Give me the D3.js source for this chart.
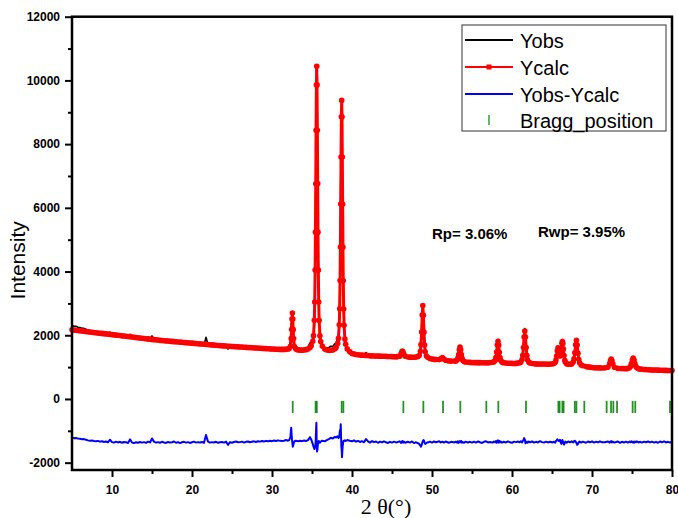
<!DOCTYPE html>
<html>
<head>
<meta charset="utf-8">
<script src="https://cdn.jsdelivr.net/npm/d3@7"></script>
<style>
  body { margin: 0; background: #fff; }
  svg { display: block; }
</style>
</head>
<body>
<svg id="chart" width="678" height="518"></svg>
<script>
// ---- Rietveld refinement data (2θ in degrees, intensity in counts) ----
const twoTheta = [
  5,5.25,5.5,5.75, 6,6.25,6.5,6.75, 7,7.25,7.5,7.75, 8,8.25,8.5,8.75, 9,9.25,9.5,9.75,
  10,10.25,10.5,10.75, 11,11.25,11.5,11.75, 12,12.25,12.5,12.75, 13,13.25,13.5,13.75, 14,14.25,14.5,14.75,
  15,15.25,15.5,15.75, 16,16.25,16.5,16.75, 17,17.25,17.5,17.75, 18,18.25,18.5,18.75, 19,19.25,19.5,19.75,
  20,20.25,20.5,20.75, 21,21.25,21.5,21.75, 22,22.25,22.5,22.75, 23,23.25,23.5,23.75, 24,24.25,24.5,24.75,
  25,25.25,25.5,25.75, 26,26.25,26.5,26.75, 27,27.25,27.5,27.75, 28,28.25,28.5,28.75, 29,29.25,29.5,29.75,
  30,30.25,30.5,30.75, 31,31.25,31.5,31.75,
  32,32.15,32.3,32.4,32.45,32.5,32.55,32.6,32.65,32.7,32.8,32.95,33.1,
  33.25,33.5,33.75,34,34.25,34.5,34.75,34.9,35.09,35.19,
  35.29,35.34,35.39,35.43,35.47,35.51,35.55,35.59,35.63,35.67,
  35.71,35.75,35.79,35.84,35.89,35.99,36.09,36.29,36.59,36.85,
  37.1,37.35,37.6,37.85,38.01,38.21,38.31,38.41,38.46,38.51,
  38.55,38.59,38.63,38.67,38.71,38.75,38.79,38.83,38.87,38.91,
  38.96,39.01,39.11,39.21,39.41,39.71,40,40.25,40.5,40.75,
  41,41.25,41.5,41.75,42,
  42.25,42.5,42.75,43,43.25,43.5,43.75,44,44.25,44.5,44.75,45,45.25,45.5,
  45.62,45.96,46.13,46.22,46.3,46.38,46.47,46.64,46.98,
  47.25,47.5,47.75,48,48.25,48.4,48.55,48.625,48.7,48.775,48.85,48.925,49,49.075,49.15,49.3,49.45,49.75,50,50.25,
  50.5,50.9,51.1,51.3,51.5,51.7,52.1,52.4,
  52.82,52.99,53.16,53.245,53.33,53.415,53.5,53.585,53.67,53.755,53.84,54.01,54.18,54.5,54.75,55,
  55.25,55.5,55.75,56,56.25,56.5,56.75,57,57.25,
  57.57,57.74,57.91,57.995,58.08,58.165,58.25,58.335,58.42,58.505,58.59,58.76,58.93,59.25,59.5,59.75,60,60.25,60.5,60.75,
  60.92,61.09,61.26,61.345,61.43,61.515,61.6,61.685,61.77,61.855,61.94,62.11,62.28,62.5,62.75,63,63.25,63.5,63.75,64,64.25,64.5,64.75,
  65.07,65.24,65.41,65.495,65.58,65.665,65.75,65.835,65.92,66,66.09,66.17,66.24,66.3,66.36,66.43,66.51,66.6,66.66,66.84,67.02,
  67.25,67.45,67.65,67.75,67.85,67.95,68.05,68.15,68.25,68.35,68.45,68.65,68.85,69.25,69.5,69.75,70,
  70.25,70.5,70.75,71,71.25,
  71.6,72,72.2,72.3,72.4,72.5,72.6,72.8,73.2,73.5,73.75,74,
  74.27,74.49,74.71,74.82,74.93,75.04,75.15,75.26,75.37,75.48,75.59,75.81,76.03,76.25,76.5,76.75,77,
  77.25,77.5,77.75,78,78.25,78.5,78.75,79,79.25,79.5,79.75,80
];

const yObs = [
  2310,2282,2280,2253, 2240,2217,2215,2188, 2160,2137,2140,2118, 2100,2107,2075,2083, 2050,2057,2025,2098,
  2015,1992,2015,1983, 1995,1957,1975,1958, 1930,2032,1930,1903, 1920,1897,1915,1888, 1895,1862,1895,1863,
  1980,1872,1835,1843, 1815,1839,1814,1793, 1818,1792,1797,1816, 1771,1785,1750,1769, 1779,1748,1758,1727,
  1742,1756,1721,1730, 1715,1724,1694,1933, 1718,1682,1692,1676, 1691,1655,1665,1670, 1645,1671,1567,1648,
  1624,1645,1656,1627, 1628,1639,1605,1626, 1632,1603,1614,1625, 1601,1622,1603,1619, 1600,1616,1597,1613,
  1594,1610,1592,1609, 1591,1586,1596,1618,
  1608,1645,1802,2350,2427,2591,2660,2360,2066,1848,1668,1620,1590,
  1560,1574,1558,1583,1578,1630,1765,1751,1748,1838,
  2250,2842,3895,5156,6858,8835,10459,10342,9559,8185,
  6609,5176,4044,3071,2487,1963,1814,1700,1588,1599,
  1617,1656,1647,1731,1753,1924,2021,2478,3132,4099,
  5022,6678,7798,8707,9122,8375,7296,5964,4707,3732,
  2863,2345,1932,1749,1632,1525,1447,1459,1407,1423,
  1381,1401,1362,1458,1385,
  1334,1382,1345,1363,1321,1354,1327,1360,1327,1305,1337,1310,1337,1310,
  1318,1364,1382,1480,1533,1449,1425,1314,1324,
  1292,1325,1275,1305,1294,1305,1374,1555,2004,2603,2951,2690,2138,1676,1421,1315,1291,1282,1233,1259,
  1229,1255,1247,1311,1231,1228,1170,1193,
  1173,1204,1209,1307,1368,1562,1660,1533,1417,1257,1210,1149,1172,1137,1152,1123,
  1152,1121,1155,1130,1108,1142,1156,1119,1143,
  1132,1179,1208,1335,1446,1731,1864,1669,1497,1284,1221,1135,1145,1112,1141,1111,1093,1125,1111,1141,
  1125,1176,1222,1398,1676,2065,2210,1904,1594,1375,1208,1165,1117,1133,1086,1106,1083,1121,1093,1076,1106,1077,1098,
  1087,1123,1134,1246,1395,1589,1667,1560,1441,1420,1405,1534,1761,1866,1759,1527,1285,1187,1172,1080,1110,
  1078,1119,1142,1277,1487,1712,1813,1604,1376,1230,1150,1046,1052,991,1021,988,1010,
  962,989,961,996,964,
  966,1016,1087,1209,1275,1182,1113,974,976,930,959,938,
  962,938,1000,1019,1132,1208,1295,1196,1123,1013,997,932,942,912,937,913,934,
  898,921,889,912,880,918,891,919,882,900,873,901
];

const yCalc = [
  2170,2162,2155,2148, 2140,2132,2125,2118, 2110,2102,2095,2088, 2080,2072,2065,2058, 2050,2042,2035,2028,
  2020,2012,2005,1998, 1990,1982,1975,1968, 1960,1952,1945,1938, 1930,1922,1915,1908, 1900,1892,1885,1878,
  1870,1862,1855,1848, 1840,1834,1829,1823, 1818,1812,1807,1801, 1796,1790,1785,1779, 1774,1768,1763,1757,
  1752,1746,1741,1735, 1730,1724,1719,1713, 1708,1702,1697,1691, 1686,1680,1675,1670, 1665,1661,1657,1653,
  1649,1645,1641,1637, 1633,1629,1625,1621, 1617,1613,1609,1605, 1601,1597,1593,1589, 1585,1581,1577,1573,
  1569,1565,1562,1559, 1556,1556,1556,1558,
  1568,1585,1652,1900,2177,2511,2700,2510,2176,1898,1648,1580,1560,
  1540,1534,1533,1538,1548,1570,1615,1671,1808,1988,
  2470,3042,4045,5236,6758,8435,9859,10442,9859,8435,
  6759,5236,4044,3041,2467,1983,1804,1660,1568,1539,
  1527,1526,1537,1571,1613,1744,1901,2328,2832,3719,
  4772,6118,7598,8857,9372,8855,7596,6114,4767,3712,
  2823,2315,1882,1719,1572,1485,1427,1409,1397,1388,
  1381,1376,1372,1368,1365,
  1354,1352,1350,1348,1346,1344,1342,1340,1337,1335,1332,1330,1327,1325,
  1328,1344,1412,1470,1503,1469,1410,1339,1319,
  1312,1310,1310,1315,1334,1365,1494,1705,2104,2633,2931,2630,2098,1696,1481,1345,1306,1272,1253,1244,
  1239,1235,1262,1301,1251,1213,1195,1188,
  1188,1194,1229,1287,1398,1547,1630,1543,1392,1277,1215,1174,1162,1152,1147,1143,
  1142,1141,1140,1140,1138,1137,1136,1134,1143,
  1152,1164,1218,1305,1471,1691,1814,1689,1467,1299,1211,1155,1140,1127,1121,1121,1118,1115,1116,1126,
  1135,1156,1237,1368,1616,1945,2130,1944,1614,1365,1233,1150,1127,1113,1106,1101,1098,1096,1098,1096,1096,1092,1093,
  1102,1113,1154,1221,1345,1509,1607,1530,1401,1350,1425,1594,1751,1806,1739,1567,1365,1217,1162,1100,1095,
  1088,1099,1157,1257,1447,1702,1843,1694,1436,1240,1135,1066,1042,1016,1006,998,990,
  982,979,976,976,974,
  976,1001,1107,1199,1250,1197,1103,994,961,955,954,953,
  952,958,985,1029,1112,1223,1285,1221,1108,1023,977,947,937,932,927,923,919,
  913,911,909,907,905,903,901,899,897,895,893,891
];

// difference curve, drawn with its offset below zero
const yDiff = [
  -1210,-1230,-1225,-1245, -1250,-1265,-1260,-1280, -1300,-1315,-1305,-1320, -1330,-1315,-1340,-1325, -1350,-1335,-1360,-1280,
  -1355,-1370,-1340,-1365, -1345,-1375,-1350,-1360, -1380,-1270,-1365,-1385, -1360,-1375,-1350,-1370, -1355,-1380,-1340,-1365,
  -1240,-1340,-1370,-1355, -1375,-1345,-1365,-1380, -1350,-1370,-1360,-1335, -1375,-1355,-1385,-1360, -1345,-1370,-1355,-1380,
  -1360,-1340,-1370,-1355, -1365,-1350,-1375,-1130, -1340,-1370,-1355,-1365, -1345,-1375,-1360,-1350, -1370,-1340,-1440,-1355,
  -1375,-1350,-1335,-1360, -1355,-1340,-1370,-1345, -1335,-1360,-1345,-1330, -1350,-1325,-1340,-1320, -1335,-1315,-1330,-1310,
  -1325,-1305,-1320,-1300, -1315,-1320,-1310,-1290,
  -1310,-1290,-1200,-900,-1100,-1270,-1390,-1500,-1460,-1400,-1330,-1310,-1320,
  -1330,-1310,-1325,-1305,-1320,-1290,-1200,-1270,-1410,-1500,
  -1570,-1550,-1500,-1430,-1250,-950,-750,-1450,-1650,-1600,
  -1500,-1410,-1350,-1320,-1330,-1370,-1340,-1310,-1330,-1290,
  -1260,-1220,-1240,-1190,-1210,-1170,-1230,-1200,-1050,-970,
  -1100,-790,-1150,-1500,-1600,-1830,-1650,-1500,-1410,-1330,
  -1310,-1320,-1300,-1320,-1290,-1310,-1330,-1300,-1340,-1315,
  -1350,-1325,-1360,-1260,-1330,
  -1370,-1320,-1355,-1335,-1375,-1340,-1365,-1330,-1360,-1380,-1345,-1370,-1340,-1365,
  -1360,-1330,-1380,-1340,-1320,-1370,-1335,-1375,-1345,
  -1370,-1335,-1385,-1360,-1390,-1410,-1470,-1500,-1450,-1380,-1330,-1290,-1310,-1370,-1410,-1380,-1365,-1340,-1370,-1335,
  -1360,-1330,-1365,-1340,-1370,-1335,-1375,-1345,
  -1365,-1340,-1370,-1330,-1380,-1335,-1320,-1360,-1325,-1370,-1355,-1375,-1340,-1365,-1345,-1370,
  -1340,-1370,-1335,-1360,-1380,-1345,-1330,-1365,-1350,
  -1370,-1335,-1360,-1320,-1375,-1310,-1300,-1370,-1320,-1365,-1340,-1370,-1345,-1365,-1330,-1360,-1375,-1340,-1355,-1335,
  -1360,-1330,-1365,-1320,-1290,-1230,-1270,-1390,-1370,-1340,-1375,-1335,-1360,-1330,-1370,-1345,-1365,-1325,-1355,-1370,-1340,-1365,-1345,
  -1365,-1340,-1370,-1325,-1300,-1270,-1290,-1320,-1310,-1280,-1370,-1410,-1340,-1290,-1330,-1390,-1430,-1380,-1340,-1370,-1335,
  -1360,-1330,-1365,-1330,-1310,-1340,-1380,-1440,-1410,-1360,-1335,-1370,-1340,-1375,-1335,-1360,-1330,
  -1370,-1340,-1365,-1330,-1360,
  -1360,-1335,-1370,-1340,-1325,-1365,-1340,-1370,-1335,-1375,-1345,-1365,
  -1340,-1370,-1335,-1360,-1330,-1365,-1340,-1375,-1335,-1360,-1330,-1365,-1345,-1370,-1340,-1360,-1335,
  -1365,-1340,-1370,-1345,-1375,-1335,-1360,-1330,-1365,-1345,-1370,-1340
];

// allowed reflection positions (2θ)
const braggPositions = [
  32.59, 35.45, 35.6, 38.71, 38.92, 46.42, 48.92, 51.38, 53.54, 56.79, 58.29, 61.75,
  65.8, 65.95, 66.3, 66.45, 67.85, 68.05, 69.04, 71.83, 72.38, 72.67, 73.13, 75.08, 75.41, 79.75, 80
];
const braggBand = [-60, -440];   // vertical extent of the reflection markers

const xMajorTicks = [10, 20, 30, 40, 50, 60, 70, 80];
const xMinorTicks = [15, 25, 35, 45, 55, 65, 75];
const yMajorTicks = [-2000, 0, 2000, 4000, 6000, 8000, 10000, 12000];
const yMinorTicks = [-1000, 1000, 3000, 5000, 7000, 9000, 11000];

const seriesNames = ["Yobs", "Ycalc", "Yobs-Ycalc", "Bragg_position"];
const factorLabels = ["Rp= 3.06%", "Rwp= 3.95%"];

// ---- layout ----
const svg = d3.select("#chart");
const plot = { left: 72, right: 672, top: 16.7, bottom: 470 };

const x = d3.scaleLinear().domain([5, 80]).range([plot.left, plot.right]);
const y = d3.scaleLinear().domain([-2230, 12000]).range([plot.bottom, plot.top]);

const tickFont = "Arial, 'Liberation Sans', sans-serif";
const colors = { obs: "#000000", calc: "#ff0000", diff: "#0000ff", bragg: "#008000" };

const pts = twoTheta.map((t, i) => ({ t, obs: yObs[i], calc: yCalc[i], diff: yDiff[i] }));

// ---- data ----
const lineOf = key => d3.line().x(d => x(d.t)).y(d => y(d[key]));

svg.append("path").datum(pts)
  .attr("d", lineOf("diff"))
  .attr("fill", "none").attr("stroke", colors.diff)
  .attr("stroke-width", 2).attr("stroke-linejoin", "round");

svg.append("path").datum(pts)
  .attr("d", lineOf("obs"))
  .attr("fill", "none").attr("stroke", colors.obs)
  .attr("stroke-width", 1.6).attr("stroke-linejoin", "round");

svg.append("path").datum(pts)
  .attr("d", lineOf("calc"))
  .attr("fill", "none").attr("stroke", colors.calc)
  .attr("stroke-width", 3).attr("stroke-linejoin", "round");

svg.append("g").selectAll("circle").data(pts).join("circle")
  .attr("cx", d => x(d.t)).attr("cy", d => y(d.calc))
  .attr("r", 2.8).attr("fill", colors.calc);

svg.append("g").selectAll("line").data(braggPositions).join("line")
  .attr("x1", d => x(d)).attr("x2", d => x(d))
  .attr("y1", y(braggBand[0])).attr("y2", y(braggBand[1]))
  .attr("stroke", colors.bragg).attr("stroke-width", 1.8).attr("stroke-opacity", 0.85);

// ---- axes ----
function styleAxis(g) {
  g.select(".domain").remove();
  g.selectAll(".tick line").attr("stroke", "#000").attr("stroke-width", 2);
  g.selectAll(".tick text")
    .attr("font-family", tickFont).attr("font-size", 12)
    .attr("font-weight", "bold").attr("fill", "#000");
}

svg.append("g").attr("transform", `translate(${plot.left},0)`)
  .call(d3.axisLeft(y).tickValues(yMajorTicks).tickSize(7).tickPadding(5)
    .tickFormat(d => String(d)))
  .call(styleAxis);
svg.append("g").attr("transform", `translate(${plot.left},0)`)
  .call(d3.axisLeft(y).tickValues(yMinorTicks).tickSize(4).tickFormat(""))
  .call(styleAxis);

svg.append("g").attr("transform", `translate(0,${plot.bottom})`)
  .call(d3.axisBottom(x).tickValues(xMajorTicks).tickSize(7).tickPadding(8)
    .tickFormat(d => String(d)))
  .call(styleAxis);
svg.append("g").attr("transform", `translate(0,${plot.bottom})`)
  .call(d3.axisBottom(x).tickValues(xMinorTicks).tickSize(4).tickFormat(""))
  .call(styleAxis);

// frame
svg.append("rect")
  .attr("x", plot.left).attr("y", plot.top)
  .attr("width", plot.right - plot.left).attr("height", plot.bottom - plot.top)
  .attr("fill", "none").attr("stroke", "#000").attr("stroke-width", 2.5);

// axis titles
svg.append("text")
  .attr("transform", `translate(25,${(plot.top + plot.bottom) / 2 + 17}) rotate(-90)`)
  .attr("text-anchor", "middle")
  .attr("font-family", tickFont).attr("font-size", 21)
  .text("Intensity");

svg.append("text")
  .attr("x", 386).attr("y", 514)
  .attr("text-anchor", "middle")
  .attr("font-family", "'Liberation Serif', 'Times New Roman', serif").attr("font-size", 22)
  .text("2 θ(°)");

// agreement factors
svg.append("text").attr("x", 432).attr("y", 239)
  .attr("font-family", tickFont).attr("font-size", 15).attr("font-weight", "bold")
  .text(factorLabels[0]);
svg.append("text").attr("x", 538).attr("y", 237)
  .attr("font-family", tickFont).attr("font-size", 15).attr("font-weight", "bold")
  .text(factorLabels[1]);

// ---- legend ----
const legend = svg.append("g").attr("transform", "translate(462,25)");
legend.append("rect")
  .attr("width", 204).attr("height", 106)
  .attr("fill", "#fff").attr("stroke", "#333").attr("stroke-width", 1);

const rowY = [15, 42, 69, 95];
const legendColors = [colors.obs, colors.calc, colors.diff, colors.bragg];
seriesNames.forEach((name, i) => {
  const row = legend.append("g").attr("transform", `translate(0,${rowY[i]})`);
  if (i < 3) {
    row.append("line").attr("x1", 3).attr("x2", 51).attr("y1", 0).attr("y2", 0)
      .attr("stroke", legendColors[i]).attr("stroke-width", 1.8);
    if (i === 1) {
      row.append("rect").attr("x", 24.5).attr("y", -2.5).attr("width", 5).attr("height", 5)
        .attr("fill", colors.calc);
    }
  } else {
    row.append("line").attr("x1", 27).attr("x2", 27).attr("y1", -5).attr("y2", 5)
      .attr("stroke", legendColors[i]).attr("stroke-width", 1.2);
  }
  row.append("text").attr("x", 58).attr("y", 7.5)
    .attr("font-family", tickFont).attr("font-size", 20)
    .attr("fill", "#000")
    .text(name);
});
</script>
</body>
</html>
